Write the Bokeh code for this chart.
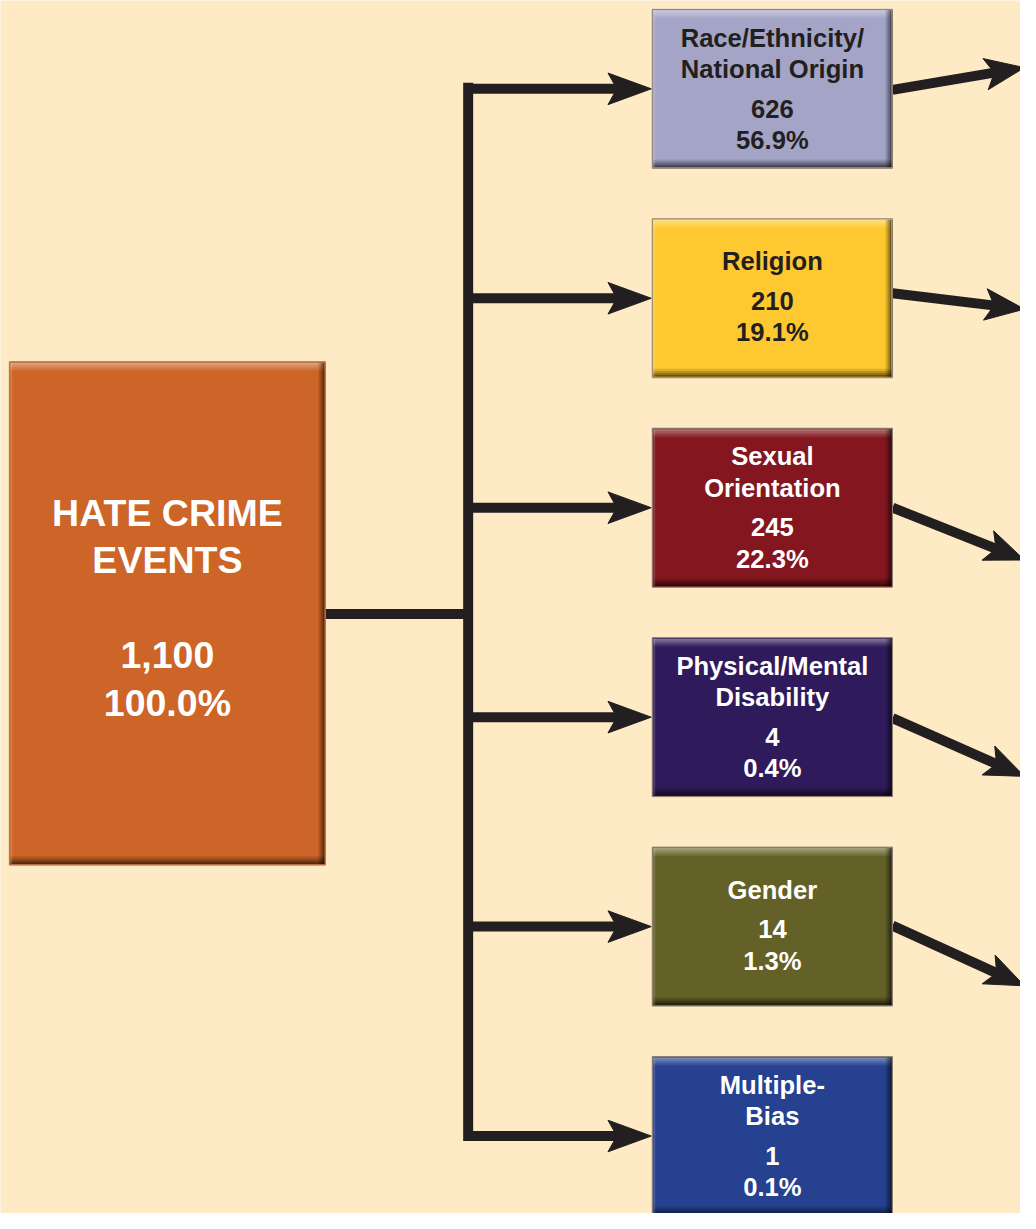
import numpy as np
from bokeh.plotting import figure
from bokeh.models import Range1d
from bokeh.core.properties import value
from bokeh.embed import file_html
from bokeh.resources import INLINE

# ---------------- data ----------------
total_label = ["HATE CRIME", "EVENTS"]
total_count = 1100
total_pct = 100.0

categories = [
    ["Race/Ethnicity/", "National Origin"],
    ["Religion"],
    ["Sexual", "Orientation"],
    ["Physical/Mental", "Disability"],
    ["Gender"],
    ["Multiple-", "Bias"],
]
counts = [626, 210, 245, 4, 14, 1]
percents = [56.9, 19.1, 22.3, 0.4, 1.3, 0.1]

# ---------------- styles ----------------
box_colors = ["#A4A4C6", "#FEC830", "#83161F", "#2F1B5B", "#646128", "#25418F"]
text_colors = ["#231F20", "#231F20", "white", "white", "white", "white"]
main_color = "#CC6527"
bg = "#FFEAC6"
ink = "#231F20"
FONT = value("Liberation Sans")

# ---------------- layout (pixel space of the reference) ----------------
W, H = 1020, 1213
REF_W, REF_H = 1036, 1229
main_l, main_r, main_t, main_b = 9, 330, 366, 876
main_cy = (main_t + main_b) / 2
trunk_x = 475
box_l, box_r, box_h = 662, 906, 161
c0, step = 89.5, 212.2
centers = [c0 + step * i for i in range(len(categories))]
# outgoing arrows (to the next level, off the right edge): start / end offsets
out_start_dy = [1, -5, 0, 1, -1]
out_end_dy = [-21.5, 11, 53, 60, 60]
out_tip_x = 1040

p = figure(width=W, height=H, x_range=Range1d(0, REF_W), y_range=Range1d(REF_H, 0),
           output_backend="svg", toolbar_location=None, min_border=0)
p.axis.visible = False
p.grid.visible = False
p.outline_line_color = None
p.background_fill_color = bg
p.border_fill_color = bg


def bevel_box(left, right, top, bottom, color):
    p.quad(left=left, right=right, top=top, bottom=bottom, fill_color=color,
           line_color="#8a7e70", line_width=1)
    # top highlight
    for k, a in enumerate([0.38, 0.28, 0.18, 0.09]):
        p.quad(left=left + 1, right=right - 1, top=top + 1 + 2 * k, bottom=top + 3 + 2 * k,
               fill_color="white", fill_alpha=a, line_color=None)
    # bottom shadow
    for k, a in enumerate([0.6, 0.42, 0.26, 0.12]):
        p.quad(left=left + 1, right=right - 1, top=bottom - 3 - 2 * k, bottom=bottom - 1 - 2 * k,
               fill_color="black", fill_alpha=a, line_color=None)
    # right shadow
    for k, a in enumerate([0.55, 0.32, 0.15]):
        p.quad(left=right - 3 - 2 * k, right=right - 1 - 2 * k, top=top + 1, bottom=bottom - 1,
               fill_color="black", fill_alpha=a, line_color=None)
    # left light edge
    p.quad(left=left + 1, right=left + 3, top=top + 1, bottom=bottom - 1,
           fill_color="white", fill_alpha=0.15, line_color=None)


def arrow(x0, y0, x1, y1, L=44, hw=16, notch=9, lw=10):
    d = np.array([x1 - x0, y1 - y0], dtype=float)
    u = d / np.linalg.norm(d)
    n = np.array([-u[1], u[0]])
    tip = np.array([x1, y1], dtype=float)
    back = tip - L * u
    pa = back + hw * n
    pb = back - hw * n
    nb = tip - (L - notch) * u
    shaft_end = nb + 3 * u
    p.segment(x0=[x0], y0=[y0], x1=[shaft_end[0]], y1=[shaft_end[1]],
              line_color=ink, line_width=lw, line_cap="butt")
    p.patch(x=[tip[0], pa[0], nb[0], pb[0]], y=[tip[1], pa[1], nb[1], pb[1]],
            fill_color=ink, line_color=ink, line_width=1)


# ---------------- connectors ----------------
p.segment(x0=[main_r], y0=[main_cy + 0.5], x1=[trunk_x], y1=[main_cy + 0.5],
          line_color=ink, line_width=10)
p.segment(x0=[trunk_x], y0=[centers[0] - 1], x1=[trunk_x], y1=[centers[-1]],
          line_color=ink, line_width=10, line_cap="square")
for cy in centers:
    arrow(trunk_x, cy, box_l - 1, cy)

for i in range(len(out_start_dy)):
    arrow(box_r, centers[i] + out_start_dy[i], out_tip_x, centers[i] + out_end_dy[i], L=40, hw=16, notch=9)

# ---------------- main box ----------------
bevel_box(main_l, main_r, main_t, main_b, main_color)
main_lines = total_label + [f"{total_count:,}", f"{total_pct:.1f}%"]
main_dy = [-102, -54, 42, 91]
p.text(x=[(main_l + main_r) / 2] * 4, y=[main_cy + d for d in main_dy], text=main_lines,
       text_font=FONT, text_font_style="bold", text_font_size="37.5px",
       text_color="white", text_align="center", text_baseline="middle")

# ---------------- category boxes ----------------
for i, cy in enumerate(centers):
    bevel_box(box_l, box_r, cy - box_h / 2, cy + box_h / 2, box_colors[i])
    lines = categories[i] + [f"{counts[i]:,}", f"{percents[i]:.1f}%"]
    nl = len(categories[i])
    offs = [32 * k for k in range(nl)] + [32 * (nl - 1) + 40, 32 * (nl - 1) + 72]
    span = offs[-1]
    shift = -1.5 if nl == 1 else 0
    ys = [cy - span / 2 + o + shift for o in offs]
    p.text(x=[(box_l + box_r) / 2] * len(lines), y=ys, text=lines,
           text_font=FONT, text_font_style="bold", text_font_size="25.6px",
           text_color=text_colors[i], text_align="center", text_baseline="middle")

open("out.html", "w").write(file_html(p, INLINE))
